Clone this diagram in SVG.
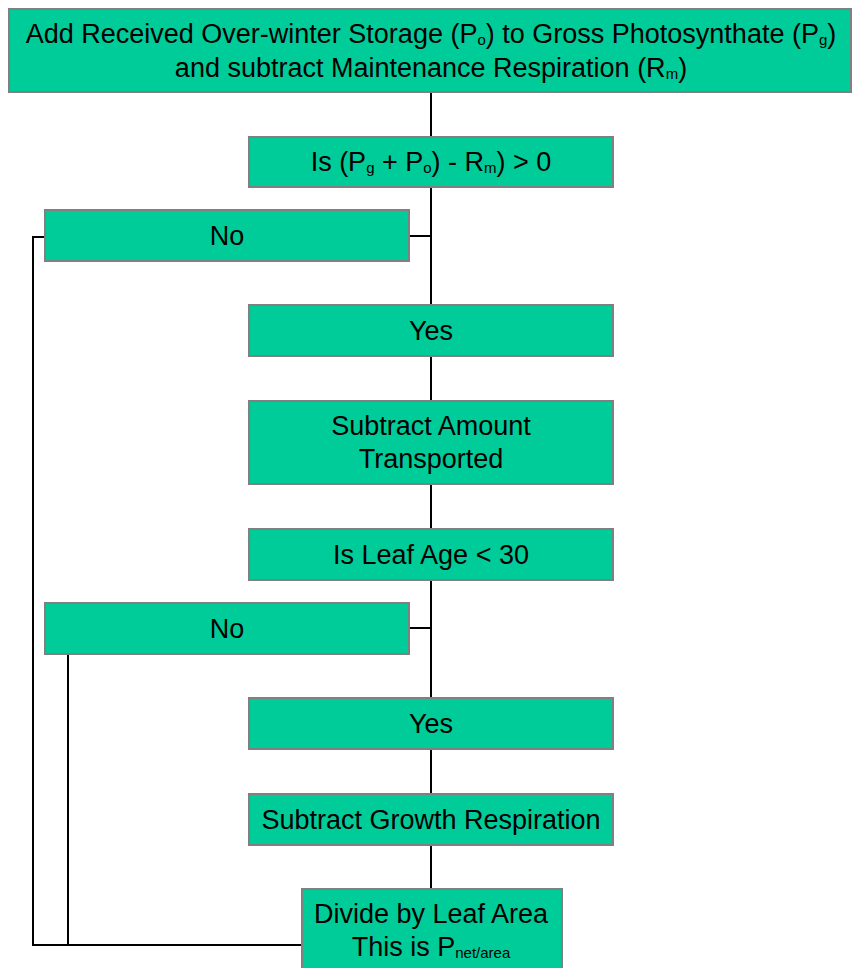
<svg xmlns="http://www.w3.org/2000/svg" width="852" height="968" viewBox="0 0 852 968">
<style>
.box{fill:#00CC99;stroke:#808080;stroke-width:2}
.t{font-family:"Liberation Sans",Arial,sans-serif;font-size:27px;fill:#000;text-anchor:middle}
.s{font-size:15px}
.c{stroke:#000;stroke-width:2;fill:none}
</style>
<rect width="852" height="968" fill="#fff"/>
<g id="connectors">
<line class="c" x1="431" y1="92" x2="431" y2="137"/>
<line class="c" x1="431" y1="187" x2="431" y2="305"/>
<line class="c" x1="409" y1="236" x2="431" y2="236"/>
<polyline class="c" points="45,237 33,237 33,945 302,945"/>
<line class="c" x1="431" y1="356" x2="431" y2="401"/>
<line class="c" x1="431" y1="484" x2="431" y2="529"/>
<line class="c" x1="431" y1="580" x2="431" y2="698"/>
<line class="c" x1="409" y1="628" x2="431" y2="628"/>
<line class="c" x1="68" y1="654" x2="68" y2="945"/>
<line class="c" x1="431" y1="749" x2="431" y2="794"/>
<line class="c" x1="431" y1="845" x2="431" y2="889"/>
</g>
<g id="n-start">
<rect class="box" x="9" y="9" width="842" height="83"/>
<text class="t" x="431" y="43">Add Received Over-winter Storage (P<tspan class="s" dy="2">o</tspan><tspan dy="-2">) to Gross Photosynthate (P</tspan><tspan class="s" dy="2">g</tspan><tspan dy="-2">)</tspan></text>
<text class="t" x="431" y="77">and subtract Maintenance Respiration (R<tspan class="s" dy="2">m</tspan><tspan dy="-2">)</tspan></text>
</g>
<g id="n-test1">
<rect class="box" x="249" y="137" width="364" height="50"/>
<text class="t" x="431" y="171">Is (P<tspan class="s" dy="2">g</tspan><tspan dy="-2"> + P</tspan><tspan class="s" dy="2">o</tspan><tspan dy="-2">) - R</tspan><tspan class="s" dy="2">m</tspan><tspan dy="-2">) &gt; 0</tspan></text>
</g>
<g id="n-no1">
<rect class="box" x="45" y="210" width="364" height="51"/>
<text class="t" x="227" y="245">No</text>
</g>
<g id="n-yes1">
<rect class="box" x="249" y="305" width="364" height="51"/>
<text class="t" x="431" y="340">Yes</text>
</g>
<g id="n-transport">
<rect class="box" x="249" y="401" width="364" height="83"/>
<text class="t" x="431" y="435">Subtract Amount</text>
<text class="t" x="431" y="468">Transported</text>
</g>
<g id="n-test2">
<rect class="box" x="249" y="529" width="364" height="51"/>
<text class="t" x="431" y="564">Is Leaf Age &lt; 30</text>
</g>
<g id="n-no2">
<rect class="box" x="45" y="603" width="364" height="51"/>
<text class="t" x="227" y="638">No</text>
</g>
<g id="n-yes2">
<rect class="box" x="249" y="698" width="364" height="51"/>
<text class="t" x="431" y="733">Yes</text>
</g>
<g id="n-growth">
<rect class="box" x="249" y="794" width="364" height="51"/>
<text class="t" x="431" y="829">Subtract Growth Respiration</text>
</g>
<g id="n-divide">
<rect class="box" x="302" y="889" width="260" height="84"/>
<text class="t" x="431" y="923">Divide by Leaf Area</text>
<text class="t" x="431" y="956">This is P<tspan class="s" dy="2">net/area</tspan></text>
</g>
</svg>
